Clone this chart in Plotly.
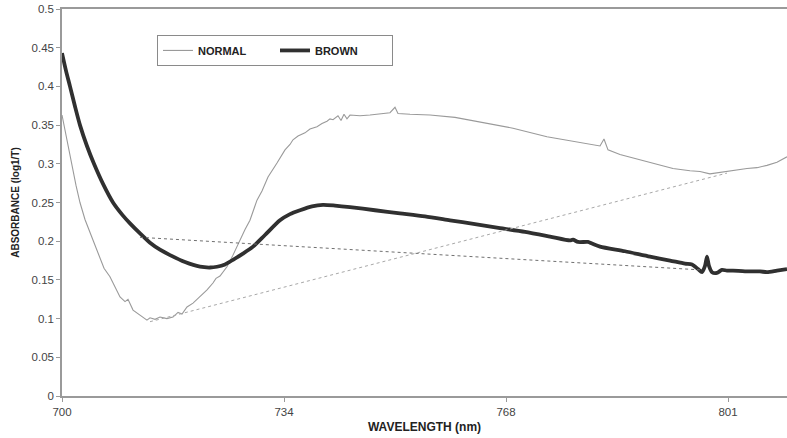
import plotly.graph_objects as go

# ---- data ----
normal_nm = [700.0, 700.76, 701.51, 702.12, 702.72, 703.48, 704.39, 705.30, 706.36, 707.26,
             708.02, 708.78, 709.54, 709.99, 710.75, 711.81, 712.86, 713.32, 714.08, 714.83,
             715.89, 716.80, 717.56, 718.16, 718.92, 719.83, 720.89, 721.95, 722.85, 723.31,
             723.91, 724.97, 725.88, 726.94, 727.70, 728.45, 729.06, 729.51, 730.27, 731.18,
             732.54, 733.75, 734.51, 734.96, 735.72, 736.78, 737.53, 738.59, 739.35, 740.11,
             740.56, 741.02, 741.77, 742.23, 742.68, 743.13, 743.59, 745.10, 746.62, 748.58,
             749.64, 750.40, 750.85, 752.67, 755.70, 759.48, 763.26, 768.26, 773.40, 778.40,
             781.43, 782.03, 782.64, 784.45, 787.48, 790.51, 792.47, 795.05, 796.56, 798.07,
             799.59, 800.65, 802.16, 803.67, 805.19, 806.70, 808.21, 809.73]
normal_abs = [0.363, 0.330, 0.300, 0.272, 0.250, 0.228, 0.208, 0.189, 0.165, 0.154,
              0.140, 0.128, 0.122, 0.125, 0.111, 0.105, 0.098, 0.101, 0.099, 0.102,
              0.100, 0.102, 0.108, 0.106, 0.115, 0.120, 0.128, 0.137, 0.146, 0.152,
              0.155, 0.167, 0.182, 0.202, 0.215, 0.227, 0.242, 0.253, 0.265, 0.283,
              0.301, 0.318, 0.325, 0.331, 0.336, 0.340, 0.345, 0.348, 0.352, 0.355,
              0.358, 0.357, 0.362, 0.356, 0.364, 0.358, 0.363, 0.362, 0.363, 0.365,
              0.366, 0.373, 0.365, 0.364, 0.363, 0.360, 0.354, 0.346, 0.335, 0.327,
              0.323, 0.332, 0.318, 0.312, 0.305, 0.298, 0.294, 0.291, 0.290, 0.287,
              0.289, 0.290, 0.292, 0.294, 0.295, 0.298, 0.302, 0.309]

brown_nm = [700.0, 700.61, 701.21, 701.97, 702.72, 703.78, 704.84, 706.21, 707.72, 709.23,
            710.29, 711.81, 713.32, 714.83, 716.35, 718.62, 720.89, 722.40, 723.46, 724.67,
            725.88, 727.39, 728.91, 730.72, 732.99, 734.51, 736.02, 737.84, 739.50, 741.32,
            743.59, 747.37, 751.16, 754.94, 758.72, 762.51, 766.29, 770.08, 773.86, 776.89,
            777.34, 778.10, 779.61, 780.21, 781.43, 785.21, 788.99, 792.02, 794.29, 795.35,
            796.26, 796.86, 797.32, 797.62, 797.92, 798.38, 799.13, 799.89, 800.65, 801.56,
            803.37, 805.64, 806.70, 808.21, 809.73]
brown_abs = [0.443, 0.420, 0.400, 0.374, 0.350, 0.323, 0.300, 0.274, 0.250, 0.233,
             0.223, 0.210, 0.198, 0.189, 0.182, 0.173, 0.167, 0.166, 0.167, 0.170,
             0.176, 0.184, 0.193, 0.208, 0.227, 0.235, 0.240, 0.245, 0.247, 0.246,
             0.244, 0.240, 0.236, 0.232, 0.227, 0.222, 0.217, 0.212, 0.206, 0.201,
             0.202, 0.199, 0.199, 0.197, 0.193, 0.187, 0.180, 0.175, 0.171, 0.170,
             0.164, 0.160, 0.168, 0.180, 0.168, 0.160, 0.159, 0.163, 0.162, 0.162,
             0.161, 0.161, 0.160, 0.162, 0.164]

brown_base_nm = [711.81, 796.56]
brown_base_abs = [0.205, 0.163]
normal_base_nm = [713.32, 800.65]
normal_base_abs = [0.096, 0.288]

x_tick_vals = [700, 733.6, 767.2, 800.8]
x_tick_text = ["700", "734", "768", "801"]

FONT = "Liberation Sans, Arial, sans-serif"

fig = go.Figure()
fig.add_trace(go.Scatter(x=normal_nm, y=normal_abs, mode="lines", name="NORMAL",
                         line=dict(color="#9a9a9a", width=1.1)))
fig.add_trace(go.Scatter(x=brown_nm, y=brown_abs, mode="lines", name="BROWN",
                         line=dict(color="#303030", width=3.8, shape="spline", smoothing=0.7)))
fig.add_trace(go.Scatter(x=brown_base_nm, y=brown_base_abs, mode="lines", showlegend=False,
                         line=dict(color="#707070", width=1, dash="dot")))
fig.add_trace(go.Scatter(x=normal_base_nm, y=normal_base_abs, mode="lines", showlegend=False,
                         line=dict(color="#a8a8a8", width=1, dash="dot")))

fig.update_layout(
    width=787, height=438,
    margin=dict(l=62, r=0, t=9, b=42, pad=0),
    paper_bgcolor="white", plot_bgcolor="white",
    font=dict(family=FONT, color="#333333", size=10),
    xaxis=dict(range=[700, 809.73], tickvals=x_tick_vals, ticktext=x_tick_text,
               automargin=False,
               showgrid=False, zeroline=False, showline=True, linecolor="#9a9a9a",
               linewidth=1.5, mirror=True, ticks="outside", ticklen=4, tickcolor="#9a9a9a",
               tickfont=dict(size=11.5, color="#444444"),
               title=dict(text="<b>WAVELENGTH (nm)</b>", font=dict(size=12, color="#222222"),
                          standoff=6)),
    yaxis=dict(range=[0, 0.5], dtick=0.05, tick0=0, showgrid=False, zeroline=False,
               automargin=False,
               showline=True, linecolor="#9a9a9a", linewidth=1.5, ticks="outside",
               ticklen=4, tickcolor="#9a9a9a",
               tickfont=dict(size=11.5, color="#444444"),
               title=dict(text="<b>ABSORBANCE (log1/T)</b>", font=dict(size=10, color="#222222"),
                          standoff=10)),
    legend=dict(orientation="h", x=0.131, y=0.933, xanchor="left", yanchor="top",
                bordercolor="#8a8a8a", borderwidth=1, bgcolor="white",
                font=dict(size=11, color="#222222", weight="bold"),
                entrywidth=72, entrywidthmode="pixels", itemwidth=30),
    showlegend=True,
)

fig.write_html("out.html", config={"displayModeBar": False},
               post_script="document.body.style.margin='0';document.body.style.overflow='hidden';")
